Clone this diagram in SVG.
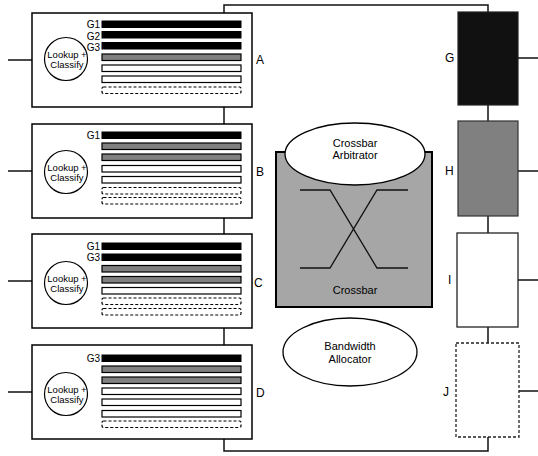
<svg xmlns="http://www.w3.org/2000/svg" width="538" height="456" viewBox="0 0 538 456">
<style>
text{font-family:"Liberation Sans",Arial,sans-serif;fill:#000}
.box{fill:#fff;stroke:#000;stroke-width:1.5}
.ln{fill:none;stroke:#111;stroke-width:1.5}
.blk{fill:#000;stroke:#000;stroke-width:1}
.gry{fill:#808080;stroke:#000;stroke-width:1.2}
.wht{fill:#fff;stroke:#000;stroke-width:1.2}
.dsh{fill:#fff;stroke:#000;stroke-width:1.2;stroke-dasharray:3 2}
.circ{fill:#fff;stroke:#000;stroke-width:1.2}
.lc{font-size:9.5px;text-anchor:middle}
.g{font-size:10px;text-anchor:end}
.lbl{font-size:12px}
.mid{font-size:11px;text-anchor:middle}
</style>
<g id="connectors">
<path class="ln" d="M224,13 V5 H488 V12"/>
<path class="ln" d="M224,107 V124 M224,218 V234 M224,439 V451 H488 V437"/>
<path class="ln" d="M224,328 V345"/>
<path class="ln" d="M488,105 V121 M488,216 V233 M488,327 V343"/>
<path class="ln" d="M8,60 H32 M8,171 H32 M8,281 H32 M8,392 H32"/>
<path class="ln" d="M518,58 H538 M515,171 H538 M518,280 H538 M518,391 H538"/>
</g>
<g id="A">
<rect class="box" x="32" y="13" width="220" height="94"/>
<circle class="circ" cx="66" cy="59" r="21.5"/>
<text class="lc" x="67" y="58">Lookup +</text>
<text class="lc" x="67" y="68">Classify</text>
<rect class="blk" x="102" y="21" width="139" height="6.5"/>
<rect class="blk" x="102" y="31.5" width="139" height="6.5"/>
<rect class="blk" x="102" y="42.5" width="139" height="6.5"/>
<rect class="gry" x="102" y="54" width="139" height="6.5"/>
<rect class="wht" x="102" y="65" width="139" height="6.5"/>
<rect class="wht" x="102" y="76" width="139" height="6.5"/>
<rect class="dsh" x="102" y="87" width="139" height="6.5" rx="1.5"/>
<text class="g" x="100" y="28">G1</text>
<text class="g" x="100" y="40">G2</text>
<text class="g" x="100" y="51">G3</text>
<text class="lbl" x="256" y="64">A</text>
</g>
<g id="B">
<rect class="box" x="32" y="124" width="220" height="94"/>
<circle class="circ" cx="66" cy="172" r="21.5"/>
<text class="lc" x="67" y="171">Lookup +</text>
<text class="lc" x="67" y="181">Classify</text>
<rect class="blk" x="102" y="132" width="139" height="6.5"/>
<rect class="gry" x="102" y="143" width="139" height="6.5"/>
<rect class="gry" x="102" y="154" width="139" height="6.5"/>
<rect class="wht" x="102" y="165.5" width="139" height="6.5"/>
<rect class="wht" x="102" y="176.5" width="139" height="6.5"/>
<rect class="dsh" x="102" y="187.5" width="139" height="6.5" rx="1.5"/>
<rect class="dsh" x="102" y="197.5" width="139" height="6.5" rx="1.5"/>
<text class="g" x="100" y="139">G1</text>
<text class="lbl" x="256" y="176">B</text>
</g>
<g id="C">
<rect class="box" x="32" y="234" width="220" height="94"/>
<circle class="circ" cx="66" cy="283" r="21.5"/>
<text class="lc" x="67" y="282">Lookup +</text>
<text class="lc" x="67" y="292">Classify</text>
<rect class="blk" x="102" y="243" width="139" height="6.5"/>
<rect class="blk" x="102" y="254" width="139" height="6.5"/>
<rect class="gry" x="102" y="265.5" width="139" height="6.5"/>
<rect class="gry" x="102" y="276.5" width="139" height="6.5"/>
<rect class="wht" x="102" y="287.5" width="139" height="6.5"/>
<rect class="dsh" x="102" y="298" width="139" height="6.5" rx="1.5"/>
<rect class="dsh" x="102" y="308.5" width="139" height="6.5" rx="1.5"/>
<text class="g" x="100" y="250">G1</text>
<text class="g" x="100" y="261">G3</text>
<text class="lbl" x="254" y="287">C</text>
</g>
<g id="D">
<rect class="box" x="32" y="345" width="220" height="94"/>
<circle class="circ" cx="66" cy="394" r="21.5"/>
<text class="lc" x="67" y="393">Lookup +</text>
<text class="lc" x="67" y="403">Classify</text>
<rect class="blk" x="102" y="355" width="139" height="6.5"/>
<rect class="gry" x="102" y="366" width="139" height="6.5"/>
<rect class="gry" x="102" y="377" width="139" height="6.5"/>
<rect class="wht" x="102" y="388" width="139" height="6.5"/>
<rect class="wht" x="102" y="399" width="139" height="6.5"/>
<rect class="wht" x="102" y="410.5" width="139" height="6.5"/>
<rect class="dsh" x="102" y="421" width="139" height="6.5" rx="1.5"/>
<text class="g" x="100" y="362">G3</text>
<text class="lbl" x="256" y="397">D</text>
</g>
<g id="Crossbar">
<rect x="276" y="152" width="156" height="155" fill="#a6a6a6" stroke="#000" stroke-width="2"/>
<path d="M300,190 H330 L377,268 H408 M300,268 H330 L377,190 H408" fill="none" stroke="#111" stroke-width="1.3"/>
<text class="mid" x="355" y="294">Crossbar</text>
</g>
<g id="CrossbarArbitrator">
<ellipse cx="355" cy="154" rx="70" ry="31" fill="#fff" stroke="#000" stroke-width="1.3"/>
<text class="mid" x="355" y="147">Crossbar</text>
<text class="mid" x="355" y="159">Arbitrator</text>
</g>
<g id="BandwidthAllocator">
<ellipse cx="350" cy="352" rx="67" ry="34" fill="#fff" stroke="#000" stroke-width="1.3"/>
<text class="mid" x="350" y="350">Bandwidth</text>
<text class="mid" x="350" y="363">Allocator</text>
</g>
<g id="G">
<rect x="458" y="12" width="60" height="93" fill="#111" stroke="#222" stroke-width="1.2"/>
<text class="lbl" x="445" y="62">G</text>
</g>
<g id="H">
<rect x="458" y="121" width="60" height="95" fill="#808080" stroke="#333" stroke-width="1.2"/>
<text class="lbl" x="445" y="175">H</text>
</g>
<g id="I">
<rect x="457" y="233" width="61" height="94" fill="#fff" stroke="#222" stroke-width="1.3"/>
<text class="lbl" x="448" y="284">I</text>
</g>
<g id="J">
<rect x="456" y="343" width="63" height="94" fill="#fff" stroke="#222" stroke-width="1.3" stroke-dasharray="3 2"/>
<text class="lbl" x="443" y="396">J</text>
</g>
</svg>
